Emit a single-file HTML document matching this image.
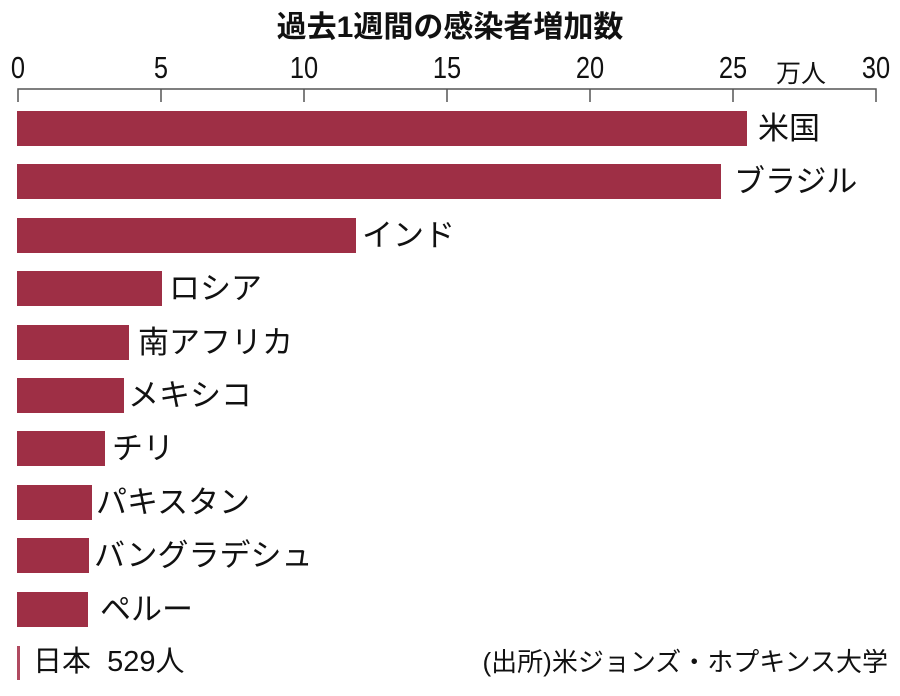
<!DOCTYPE html><html><head><meta charset="utf-8"><style>
body{margin:0;background:#fff;width:900px;height:696px;overflow:hidden;position:relative;font-family:"Liberation Sans","Noto Sans CJK JP",sans-serif;color:#111}
.t{position:absolute;white-space:nowrap}
.bar{position:absolute;left:17px;height:35px;background:#9e2f45}
.lab{position:absolute;font-size:31px;line-height:35px;white-space:nowrap}
.tk{position:absolute;top:50px;font-size:31px;transform:translateX(-50%) scaleX(.82)}
</style></head><body>
<div class="t" style="left:0;width:900px;text-align:center;top:2px;font-size:30px;font-weight:bold">過去1週間の感染者増加数</div>
<div class="tk" style="left:18px">0</div>
<div class="tk" style="left:161px">5</div>
<div class="tk" style="left:304px">10</div>
<div class="tk" style="left:447px">15</div>
<div class="tk" style="left:590px">20</div>
<div class="tk" style="left:733px">25</div>
<div class="tk" style="left:876px">30</div>
<div class="t" style="left:776px;top:54px;font-size:25px">万人</div>
<svg style="position:absolute;left:0;top:0" width="900" height="110">
<g stroke="#555" stroke-width="1.5" fill="none">
<path d="M18 102V89H876V102"/>
<path d="M161 89V102M304 89V102M447 89V102M590 89V102M733 89V102"/>
</g></svg>
<div class="bar" style="top:111px;width:730px"></div><div class="lab" style="left:758px;top:111px">米国</div>
<div class="bar" style="top:164px;width:704px"></div><div class="lab" style="left:734px;top:164px">ブラジル</div>
<div class="bar" style="top:218px;width:339px"></div><div class="lab" style="left:362px;top:218px">インド</div>
<div class="bar" style="top:271px;width:145px"></div><div class="lab" style="left:169px;top:271px">ロシア</div>
<div class="bar" style="top:325px;width:112px"></div><div class="lab" style="left:138px;top:325px">南アフリカ</div>
<div class="bar" style="top:378px;width:107px"></div><div class="lab" style="left:128px;top:378px">メキシコ</div>
<div class="bar" style="top:431px;width:88px"></div><div class="lab" style="left:112px;top:431px">チリ</div>
<div class="bar" style="top:485px;width:75px"></div><div class="lab" style="left:96px;top:485px">パキスタン</div>
<div class="bar" style="top:538px;width:72px"></div><div class="lab" style="left:94px;top:538px">バングラデシュ</div>
<div class="bar" style="top:592px;width:71px"></div><div class="lab" style="left:100px;top:592px">ペルー</div>
<div style="position:absolute;left:17px;top:646px;width:3px;height:34px;background:#b04a60"></div>
<div class="lab" style="left:33px;top:645px;font-size:29px">日本&nbsp;&nbsp;529人</div>
<div class="lab" style="right:12px;top:645px;font-size:26px">(出所)米ジョンズ・ホプキンス大学</div>
</body></html>
